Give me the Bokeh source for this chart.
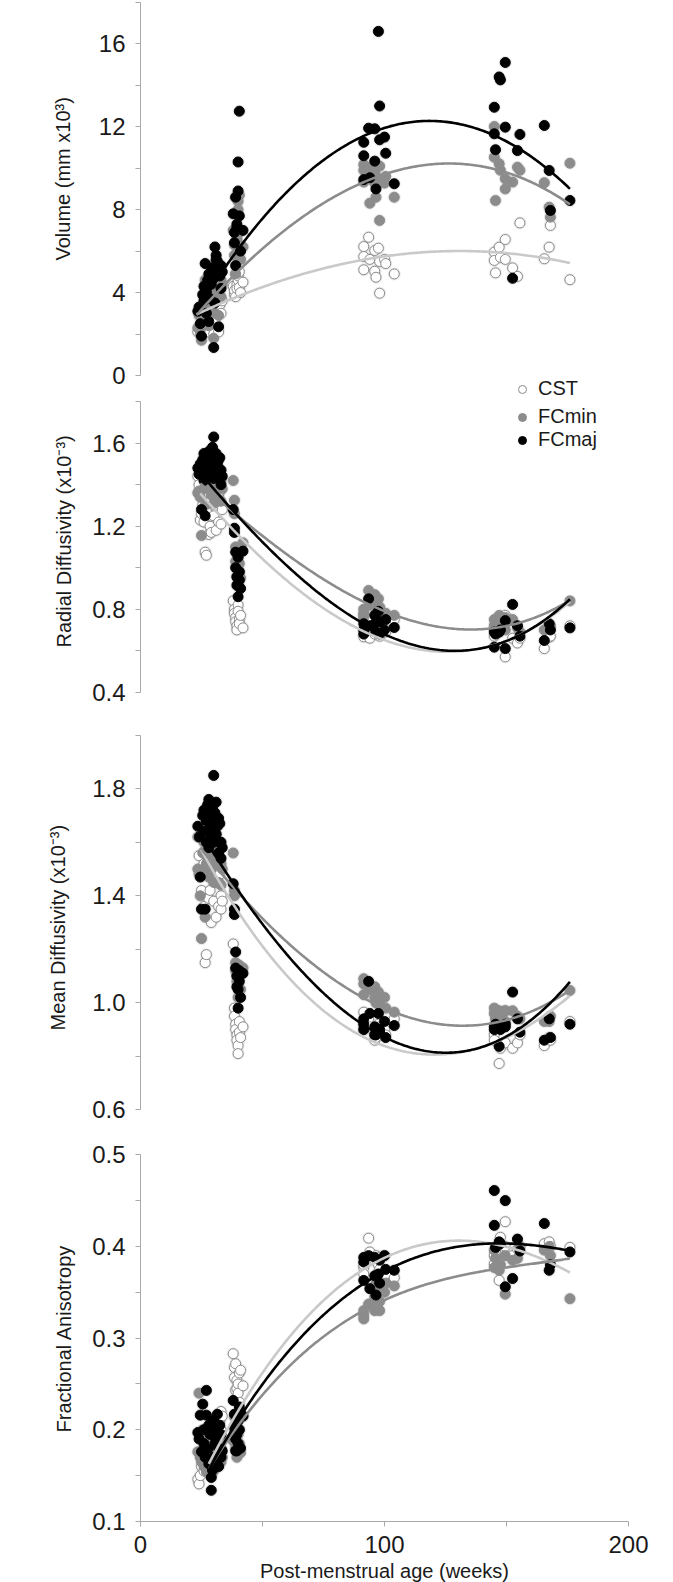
import numpy as np
from bokeh.plotting import figure
from bokeh.layouts import column
from bokeh.models import (FixedTicker, PrintfTickFormatter, Range1d, ColumnDataSource,
                          Legend, LegendItem, Title)
from bokeh.embed import file_html
from bokeh.resources import INLINE

# ---------------- data ----------------
AGE = [23.5, 24.0, 24.5, 25.0, 25.5, 26.0, 26.0, 26.5, 27.0, 27.0, 27.5, 28.0, 28.0, 28.5, 29.0,
       29.0, 29.5, 30.0, 30.0, 30.5, 30.5, 31.0, 31.0, 31.5, 32.0, 32.0, 32.5, 33.0, 33.0, 33.5,
       38.0, 38.5, 38.5, 39.0, 39.0, 39.5, 39.5, 40.0, 40.0, 40.5, 40.5, 41.0, 42.0,
       91.5, 91.5, 91.5, 93.5, 94.0, 96.0, 96.0, 96.5, 97.5, 98.0, 98.0, 100.0, 100.5, 104.0,
       145.0, 145.0, 145.5, 147.0, 147.5, 149.5, 149.5, 152.5, 154.5, 155.5,
       165.5, 167.5, 168.0, 176.0]

VOL_CST = [2.1, 2.3, 2.0, 1.9, 2.6, 2.5, 2.9, 3.3, 2.2, 2.8, 3.2, 2.1, 3.4, 2.7, 3.5,
           3.0, 3.6, 2.0, 3.3, 2.6, 3.9, 3.7, 3.8, 3.6, 2.1, 3.5, 3.4, 3.0, 3.7, 3.6,
           4.3, 3.9, 4.1, 4.9, 3.8, 4.4, 4.2, 4.6, 4.8, 5.0, 4.25, 4.0, 4.5,
           6.22, 5.74, 5.1, 6.67, 5.6, 6.03, 5.03, 4.74, 6.14, 3.97, 5.5, 5.6, 5.4, 4.9,
           5.95, 5.55, 4.95, 6.19, 5.7, 6.56, 5.6, 5.19, 4.78, 7.36,
           5.63, 6.19, 7.24, 4.62]
VOL_FCMIN = [2.3, 2.9, 2.2, 1.7, 3.3, 3.1, 3.8, 4.6, 2.6, 3.5, 4.1, 2.4, 4.3, 3.2, 4.5,
             3.9, 4.6, 1.8, 4.2, 3.0, 5.4, 5.1, 4.9, 4.8, 2.9, 4.5, 4.3, 3.8, 4.6, 4.4,
             7.0, 5.8, 6.3, 8.6, 4.9, 6.6, 6.5, 8.0, 8.4, 8.7, 6.9, 5.6, 6.2,
             10.18, 9.9, 9.33, 10.0, 8.31, 9.8, 9.28, 8.6, 9.5, 7.48, 10.1, 9.28, 9.6, 8.6,
             12.01, 10.53, 8.44, 10.21, 9.9, 9.49, 9.0, 9.33, 10.05, 9.9,
             9.3, 8.12, 7.64, 10.24]
VOL_FCMAJ = [3.1, 3.3, 2.5, 1.9, 3.9, 3.6, 4.3, 5.4, 3.0, 4.0, 4.6, 2.6, 4.9, 3.7, 5.0,
             4.4, 5.2, 1.35, 4.7, 3.5, 6.2, 5.8, 5.6, 5.5, 2.35, 5.1, 4.8, 4.2, 5.3, 5.0,
             7.8, 6.4, 6.9, 8.6, 5.3, 7.3, 7.15, 8.9, 10.3, 12.75, 7.7, 6.0, 7.0,
             11.25, 10.6, 9.45, 11.93, 9.54, 11.9, 10.34, 9.0, 16.6, 13.0, 11.37, 11.5, 10.72, 9.25,
             12.94, 11.66, 10.89, 14.4, 14.26, 15.1, 11.98, 4.69, 10.85, 11.63,
             12.06, 9.89, 7.96, 8.44]

RD_CST = [1.44, 1.40, 1.23, 1.26, 1.30, 1.22, 1.34, 1.075, 1.06, 1.27, 1.35, 1.16, 1.38, 1.20, 1.33,
          1.17, 1.40, 1.25, 1.42, 1.30, 1.36, 1.18, 1.38, 1.32, 1.22, 1.35, 1.37, 1.21, 1.30, 1.28,
          0.84, 0.80, 0.78, 0.76, 0.74, 0.72, 0.70, 0.82, 0.79, 0.75, 0.73, 0.77, 0.71,
          0.77, 0.667, 0.70, 0.75, 0.66, 0.68, 0.72, 0.69, 0.70, 0.67, 0.74, 0.71, 0.69, 0.75,
          0.67, 0.70, 0.74, 0.69, 0.72, 0.57, 0.77, 0.66, 0.637, 0.66,
          0.61, 0.665, 0.67, 0.72]
RD_FCMIN = [1.36, 1.37, 1.34, 1.155, 1.45, 1.38, 1.48, 1.30, 1.44, 1.40, 1.47, 1.38, 1.50, 1.42, 1.46,
            1.35, 1.52, 1.31, 1.50, 1.45, 1.48, 1.40, 1.49, 1.45, 1.33, 1.46, 1.47, 1.32, 1.42, 1.38,
            1.42, 1.325, 1.26, 1.10, 1.03, 1.00, 0.96, 0.92, 1.06, 1.02, 0.98, 0.95, 1.12,
            0.80, 0.78, 0.76, 0.89, 0.82, 0.87, 0.83, 0.79, 0.85, 0.80, 0.81, 0.76, 0.78, 0.77,
            0.75, 0.72, 0.70, 0.77, 0.74, 0.76, 0.70, 0.75, 0.71, 0.69,
            0.70, 0.71, 0.72, 0.84]
RD_FCMAJ = [1.48, 1.45, 1.50, 1.28, 1.52, 1.42, 1.55, 1.25, 1.50, 1.47, 1.53, 1.44, 1.56, 1.49, 1.51,
            1.46, 1.58, 1.43, 1.63, 1.52, 1.54, 1.48, 1.55, 1.50, 1.45, 1.52, 1.53, 1.40, 1.47, 1.44,
            1.28, 1.19, 1.17, 1.075, 1.0, 0.955, 0.915, 0.86, 1.05, 0.98, 0.94, 0.90, 1.08,
            0.73, 0.70, 0.68, 0.85, 0.72, 0.77, 0.73, 0.69, 0.79, 0.68, 0.74, 0.70, 0.75, 0.712,
            0.69, 0.617, 0.68, 0.69, 0.70, 0.745, 0.61, 0.823, 0.72, 0.67,
            0.649, 0.73, 0.70, 0.71]

MD_CST = [1.62, 1.55, 1.50, 1.42, 1.50, 1.36, 1.52, 1.15, 1.18, 1.48, 1.52, 1.39, 1.55, 1.42, 1.50,
          1.30, 1.56, 1.38, 1.58, 1.45, 1.52, 1.32, 1.54, 1.46, 1.36, 1.50, 1.48, 1.35, 1.40, 1.38,
          1.22, 0.98, 0.95, 0.92, 0.90, 0.88, 0.86, 0.84, 0.81, 0.93, 0.89, 0.87, 0.91,
          0.965, 0.92, 0.90, 0.94, 0.91, 0.88, 0.86, 0.87, 0.92, 0.89, 0.91, 0.90, 0.88, 0.94,
          0.88, 0.86, 0.90, 0.773, 0.83, 0.85, 0.97, 0.83, 0.85, 0.88,
          0.84, 0.87, 0.86, 0.93]
MD_FCMIN = [1.50, 1.48, 1.40, 1.24, 1.56, 1.50, 1.60, 1.32, 1.52, 1.55, 1.62, 1.47, 1.65, 1.54, 1.58,
            1.50, 1.64, 1.45, 1.66, 1.57, 1.60, 1.52, 1.63, 1.56, 1.45, 1.58, 1.60, 1.44, 1.52, 1.50,
            1.56, 1.42, 1.40, 1.15, 1.12, 1.10, 1.08, 1.06, 1.02, 1.14, 1.10, 1.05, 1.13,
            1.09, 1.07, 1.03, 1.07, 1.05, 1.06, 1.02, 1.00, 1.04, 0.99, 1.01, 1.02, 0.98, 0.965,
            0.98, 0.96, 0.94, 0.97, 0.95, 0.97, 0.93, 0.97, 0.95, 0.94,
            0.93, 0.93, 0.95, 1.046]
MD_FCMAJ = [1.66, 1.62, 1.47, 1.35, 1.70, 1.64, 1.72, 1.35, 1.60, 1.68, 1.74, 1.58, 1.76, 1.65, 1.70,
            1.62, 1.73, 1.60, 1.85, 1.68, 1.71, 1.63, 1.75, 1.66, 1.56, 1.69, 1.67, 1.54, 1.60, 1.58,
            1.445, 1.35, 1.33, 1.19, 1.13, 1.10, 1.06, 1.05, 0.98, 1.12, 1.08, 1.02, 1.11,
            0.94, 0.92, 0.90, 1.08, 0.96, 0.88, 0.91, 0.88, 0.96, 0.90, 0.89, 0.93, 0.87, 0.915,
            0.91, 0.90, 0.92, 0.837, 0.90, 0.92, 0.91, 1.04, 0.94, 0.89,
            0.86, 0.94, 0.87, 0.92]

FA_CST = [0.146, 0.141, 0.15, 0.16, 0.17, 0.155, 0.165, 0.18, 0.16, 0.175, 0.19, 0.165, 0.2, 0.175, 0.185,
          0.17, 0.19, 0.18, 0.195, 0.205, 0.18, 0.21, 0.19, 0.2, 0.185, 0.195, 0.21, 0.2, 0.22, 0.215,
          0.283, 0.268, 0.257, 0.243, 0.272, 0.254, 0.245, 0.25, 0.24, 0.262, 0.23, 0.265, 0.248,
          0.377, 0.38, 0.37, 0.409, 0.394, 0.388, 0.385, 0.39, 0.38, 0.375, 0.388, 0.39, 0.37, 0.366,
          0.381, 0.39, 0.395, 0.363, 0.41, 0.427, 0.40, 0.39, 0.397, 0.40,
          0.403, 0.405, 0.4, 0.399]
FA_FCMIN = [0.176, 0.24, 0.17, 0.165, 0.2, 0.16, 0.18, 0.19, 0.154, 0.185, 0.165, 0.195, 0.175, 0.16, 0.15,
            0.17, 0.18, 0.155, 0.19, 0.17, 0.165, 0.175, 0.185, 0.2, 0.16, 0.17, 0.19, 0.165, 0.18, 0.17,
            0.188, 0.214, 0.2, 0.19, 0.18, 0.205, 0.17, 0.195, 0.21, 0.185, 0.2, 0.175, 0.215,
            0.321, 0.325, 0.33, 0.337, 0.337, 0.345, 0.33, 0.36, 0.357, 0.34, 0.33, 0.35, 0.36, 0.357,
            0.377, 0.396, 0.387, 0.374, 0.38, 0.39, 0.348, 0.385, 0.387, 0.4,
            0.396, 0.4, 0.39, 0.343]
FA_FCMAJ = [0.197, 0.19, 0.216, 0.176, 0.228, 0.185, 0.2, 0.17, 0.243, 0.216, 0.179, 0.205, 0.163, 0.195, 0.134,
            0.148, 0.156, 0.17, 0.21, 0.185, 0.167, 0.19, 0.2, 0.217, 0.16, 0.18, 0.205, 0.17, 0.195, 0.177,
            0.232, 0.217, 0.203, 0.19, 0.177, 0.177, 0.195, 0.21, 0.185, 0.2, 0.225, 0.18, 0.215,
            0.388, 0.383, 0.363, 0.39, 0.354, 0.368, 0.388, 0.347, 0.37, 0.36, 0.385, 0.39, 0.375, 0.374,
            0.461, 0.423, 0.399, 0.405, 0.403, 0.45, 0.356, 0.365, 0.408, 0.395,
            0.425, 0.374, 0.38, 0.394]

# trend-line readings (age, value) taken off the fitted curves in the picture
TREND_VOL_CST_X = [23, 41, 94, 129.5, 176]
TREND_VOL_CST_Y = [2.93, 3.9, 5.6, 6.03, 5.42]
TREND_VOL_FCMIN_X = [23, 41, 66, 94, 122, 176]
TREND_VOL_FCMIN_Y = [2.9, 5.2, 7.6, 9.4, 10.25, 8.25]
TREND_VOL_FCMAJ_X = [23, 41.4, 66, 94.3, 118, 176]
TREND_VOL_FCMAJ_Y = [3.05, 6.4, 9.45, 11.7, 12.3, 9.0]

TREND_RD_CST_X = [24.5, 41.4, 65.4, 82, 98, 122, 176]
TREND_RD_CST_Y = [1.34, 1.18, 0.87, 0.74, 0.66, 0.607, 0.834]
TREND_RD_FCMIN_X = [24.5, 41.4, 65.4, 97.8, 109, 136, 176]
TREND_RD_FCMIN_Y = [1.39, 1.27, 1.0, 0.80, 0.745, 0.715, 0.84]
TREND_RD_FCMAJ_X = [24.5, 41.4, 65.4, 82, 98, 127, 176]
TREND_RD_FCMAJ_Y = [1.44, 1.26, 0.955, 0.78, 0.68, 0.617, 0.845]

TREND_MD_CST_X = [24.5, 41, 65.4, 81.8, 98, 125, 176]
TREND_MD_CST_Y = [1.56, 1.37, 1.02, 0.915, 0.859, 0.81, 1.025]
TREND_MD_FCMIN_X = [24.5, 41, 65.4, 81.8, 98, 127, 176]
TREND_MD_FCMIN_Y = [1.57, 1.42, 1.183, 1.065, 0.978, 0.927, 1.045]
TREND_MD_FCMAJ_X = [29, 41, 65.4, 81.8, 98, 121.3, 176]
TREND_MD_FCMAJ_Y = [1.55, 1.45, 1.108, 0.971, 0.884, 0.822, 1.077]

TREND_FA_CST_X = [28, 43, 66, 97.8, 140, 176]
TREND_FA_CST_Y = [0.159, 0.239, 0.319, 0.377, 0.41, 0.37]
TREND_FA_FCMIN_X = [28, 43, 66, 97.8, 158, 176]
TREND_FA_FCMIN_Y = [0.156, 0.214, 0.29, 0.33, 0.387, 0.383]
TREND_FA_FCMAJ_X = [28, 43, 66, 97.8, 145, 176]
TREND_FA_FCMAJ_Y = [0.156, 0.221, 0.308, 0.363, 0.407, 0.394]

SERIES = ["CST", "FCmin", "FCmaj"]
X_TICKS = [0, 100, 200]
X_MINOR = [50, 150]

# ---------------- styling ----------------
FONT = "Liberation Sans"
AXC = "#a9a9a9"
TXT = "#1a1a1a"
MARK = {
    "CST": dict(fill_color="white", line_color="#8a8a8a"),
    "FCmin": dict(fill_color="#8c8c8c", line_color="#8c8c8c"),
    "FCmaj": dict(fill_color="#000000", line_color="#000000"),
}
LINEC = {"CST": "#c9c9c9", "FCmin": "#8c8c8c", "FCmaj": "#000000"}


def style_axis(ax, ticks, minors, fmt):
    ax.ticker = FixedTicker(ticks=ticks, minor_ticks=minors)
    ax.formatter = PrintfTickFormatter(format=fmt)
    ax.axis_line_color = AXC
    ax.major_tick_line_color = AXC
    ax.minor_tick_line_color = AXC
    ax.major_tick_in = 0
    ax.major_tick_out = 5
    ax.minor_tick_in = 0
    ax.minor_tick_out = 5
    ax.major_label_text_font = FONT
    ax.major_label_text_font_size = "24px"
    ax.major_label_text_color = TXT


def panel(frame_h, yr, bounds, ticks, minors, fmt, ylabel, title_offset, title_standoff,
          vals, trends, show_x=False):
    p = figure(frame_width=488, frame_height=frame_h,
               x_range=Range1d(0, 200), y_range=Range1d(*yr),
               output_backend="svg", toolbar_location=None,
               x_axis_location="below" if show_x else None,
               min_border=0, min_border_left=140, min_border_right=30,
               min_border_top=0, min_border_bottom=61 if show_x else 0)
    p.outline_line_color = None
    p.background_fill_color = None
    p.border_fill_color = None
    for g in p.grid:
        g.visible = False
    ya = p.yaxis[0]
    style_axis(ya, ticks, minors, fmt)
    ya.bounds = bounds
    ya.major_label_standoff = 10

    # y-axis title, placed along the axis where the original has it
    p.add_layout(Title(text=ylabel, align="left", offset=title_offset, standoff=title_standoff,
                       text_font=FONT, text_font_size="20px", text_font_style="normal",
                       text_color=TXT), "left")

    src = ColumnDataSource(dict(age=AGE, CST=vals[0], FCmin=vals[1], FCmaj=vals[2]))
    for s in SERIES:
        p.scatter("age", s, source=src, size=13, fill_color="#808080", fill_alpha=0.16,
                  line_color=None)
    rends = {}
    for s in SERIES:
        rends[s] = p.scatter("age", s, source=src, size=10, line_width=1, **MARK[s])
    for s, (kx, ky) in zip(SERIES, trends):
        coef = np.polyfit(kx, ky, 3)
        xs = np.linspace(kx[0], kx[-1], 200)
        p.line(xs, np.polyval(coef, xs), line_color=LINEC[s], line_width=2.6)

    if show_x:
        xa = p.xaxis[0]
        style_axis(xa, X_TICKS, X_MINOR, "%d")
        xa.major_label_standoff = 9
        xa.axis_label = "Post-menstrual age (weeks)"
        xa.axis_label_text_font = FONT
        xa.axis_label_text_font_size = "20px"
        xa.axis_label_text_font_style = "normal"
        xa.axis_label_text_color = TXT
        xa.axis_label_standoff = 4
    return p, rends


def legend(p, rends, names, loc):
    lg = Legend(items=[LegendItem(label=n, renderers=[rends[n]]) for n in names],
                location=loc, orientation="vertical",
                label_text_font=FONT, label_text_font_size="20px", label_text_color=TXT,
                glyph_width=20, glyph_height=20, label_standoff=6, spacing=0,
                padding=0, margin=0, border_line_color=None, background_fill_alpha=0)
    p.add_layout(lg)


p1, r1 = panel(400, (-1.206, 18.09), (0, 18), [0, 4, 8, 12, 16], [2, 6, 10, 14, 18], "%d",
               "Volume (mm x10\u00b3)", 140, 44,
               (VOL_CST, VOL_FCMIN, VOL_FCMAJ),
               [(TREND_VOL_CST_X, TREND_VOL_CST_Y), (TREND_VOL_FCMIN_X, TREND_VOL_FCMIN_Y),
                (TREND_VOL_FCMAJ_X, TREND_VOL_FCMAJ_Y)])
legend(p1, r1, ["CST"], (372, 0))

p2, r2 = panel(313, (0.2973, 1.8058), (0.4, 1.8), [0.4, 0.8, 1.2, 1.6], [0.6, 1.0, 1.4, 1.8], "%.1f",
               "Radial Diffusivity (x10\u207b\u00b3)", 66, 30,
               (RD_CST, RD_FCMIN, RD_FCMAJ),
               [(TREND_RD_CST_X, TREND_RD_CST_Y), (TREND_RD_FCMIN_X, TREND_RD_FCMIN_Y),
                (TREND_RD_FCMAJ_X, TREND_RD_FCMAJ_Y)])
legend(p2, r2, ["FCmin", "FCmaj"], (372, 262))

p3, r3 = panel(419, (0.5151, 2.0815), (0.6, 2.0), [0.6, 1.0, 1.4, 1.8], [0.8, 1.2, 1.6, 2.0], "%.1f",
               "Mean Diffusivity (x10\u207b\u00b3)", 102, 41,
               (MD_CST, MD_FCMIN, MD_FCMAJ),
               [(TREND_MD_CST_X, TREND_MD_CST_Y), (TREND_MD_FCMIN_X, TREND_MD_FCMIN_Y),
                (TREND_MD_FCMAJ_X, TREND_MD_FCMAJ_Y)])

p4, r4 = panel(389, (0.1, 0.5243), (0.1, 0.5), [0.1, 0.2, 0.3, 0.4, 0.5], [0.15, 0.25, 0.35, 0.45], "%.1f",
               "Fractional Anisotropy", 89, 30,
               (FA_CST, FA_FCMIN, FA_FCMAJ),
               [(TREND_FA_CST_X, TREND_FA_CST_Y), (TREND_FA_FCMIN_X, TREND_FA_FCMIN_Y),
                (TREND_FA_FCMAJ_X, TREND_FA_FCMAJ_Y)], show_x=True)

layout = column(p1, p2, p3, p4, spacing=0)
open("out.html", "w").write(file_html(layout, INLINE))
